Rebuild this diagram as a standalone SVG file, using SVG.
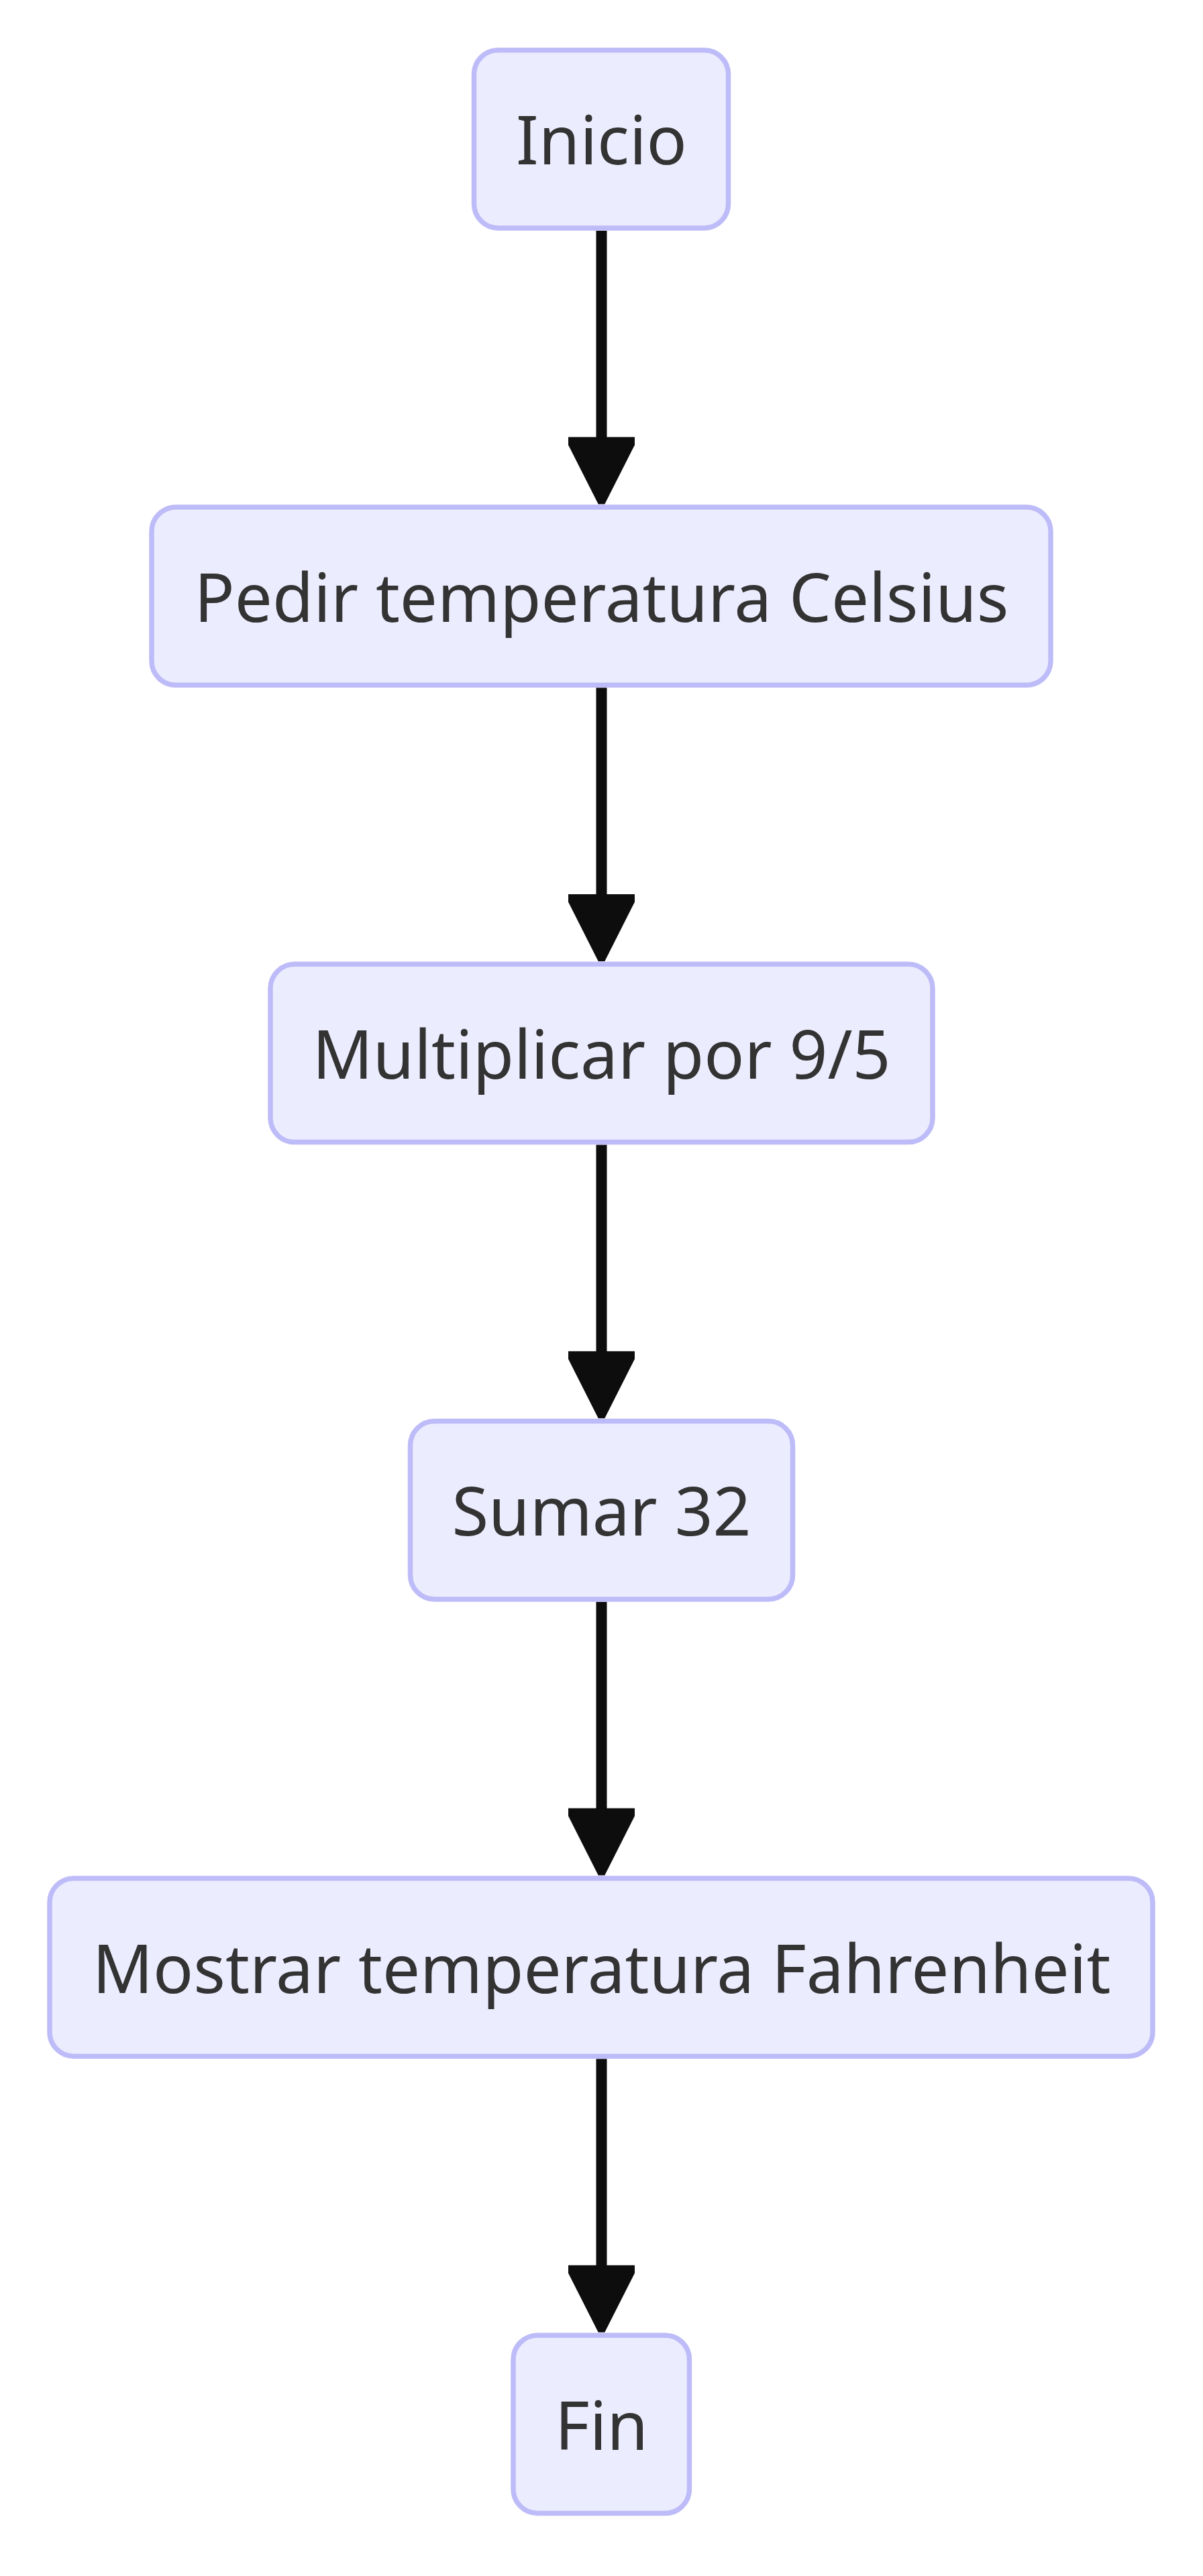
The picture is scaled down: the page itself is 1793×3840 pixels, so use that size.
<svg xmlns="http://www.w3.org/2000/svg" width="1793" height="3840" viewBox="0 0 1793 3840">
  <style>
    .node rect { fill: #ECECFF; stroke: #BEBCF8; stroke-width: 7.5; }
    .node text { font-family: "Noto Sans", "Open Sans", "DejaVu Sans", sans-serif; font-size: 99.6px; fill: #333333; text-anchor: middle; }
    .edge { fill: none; stroke: #0d0d0d; stroke-width: 16; marker-end: url(#arrow); }
  </style>
  <defs>
    <marker id="arrow" markerUnits="userSpaceOnUse" markerWidth="100" markerHeight="100" viewBox="0 0 100 100" refX="5" refY="49.5" orient="auto" overflow="visible">
      <path d="M0,0 L11.6,0 L100,44.7 L100,54.3 L11.6,99 L0,99 Z" fill="#0d0d0d"/>
    </marker>
  </defs>
  <rect x="0" y="0" width="1793" height="3840" fill="#ffffff"/>
  <g id="connectors">
    <path class="edge" d="M896.5,344 V656.6"/>
    <path class="edge" d="M896.5,1025.3 V1337.9"/>
    <path class="edge" d="M896.5,1706.6 V2019.2"/>
    <path class="edge" d="M896.5,2387.9 V2700.5"/>
    <path class="edge" d="M896.5,3069.2 V3381.8"/>
  </g>
  <g id="inicio" class="node">
    <rect x="706.5" y="74.7" width="379" height="265.3" rx="36" ry="36"/>
    <text x="896.5" y="245.4">Inicio</text>
  </g>
  <g id="pedir" class="node">
    <rect x="226" y="756" width="1340" height="265.3" rx="36" ry="36"/>
    <text x="896.5" y="926.7">Pedir temperatura Celsius</text>
  </g>
  <g id="multiplicar" class="node">
    <rect x="403" y="1437.3" width="987" height="265.3" rx="36" ry="36"/>
    <text x="896.5" y="1608">Multiplicar por 9/5</text>
  </g>
  <g id="sumar" class="node">
    <rect x="611.5" y="2118.6" width="570" height="265.3" rx="36" ry="36"/>
    <text x="896.5" y="2289.3">Sumar 32</text>
  </g>
  <g id="mostrar" class="node">
    <rect x="74" y="2799.9" width="1644" height="265.3" rx="36" ry="36"/>
    <text x="896.5" y="2970.6">Mostrar temperatura Fahrenheit</text>
  </g>
  <g id="fin" class="node">
    <rect x="765" y="3481.2" width="262.5" height="265.3" rx="36" ry="36"/>
    <text x="896.5" y="3651.9">Fin</text>
  </g>
</svg>
